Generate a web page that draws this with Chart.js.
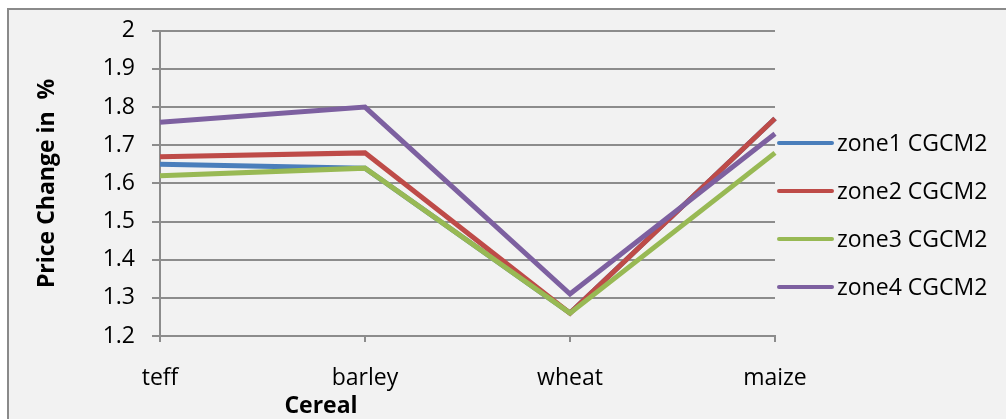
<!DOCTYPE html>
<html>
<head>
<meta charset="utf-8">
<script src="https://cdn.jsdelivr.net/npm/chart.js@4/dist/chart.umd.min.js"></script>
<style>
  html, body { margin: 0; padding: 0; background: #ffffff; }
  #wrap { position: relative; width: 1006px; height: 419px; overflow: hidden; }
  #frame {
    position: absolute; left: 7px; top: 8px; right: -4px; bottom: -4px;
    background: #f2f2f2; border-left: 2px solid #8a8a8a; border-top: 2px solid #8a8a8a;
  }
  #chart { position: absolute; left: 0; top: 0; }
</style>
</head>
<body>
<div id="wrap">
  <div id="frame"></div>
  <canvas id="chart" width="1006" height="419"></canvas>
</div>
<script>
// categories and series
const cereals   = ["teff", "barley", "wheat", "maize"];
const zoneNames = ["zone1 CGCM2", "zone2 CGCM2", "zone3 CGCM2", "zone4 CGCM2"];
const zone1     = [1.65, 1.64, 1.26, 1.77];
const zone2     = [1.67, 1.68, 1.26, 1.77];
const zone3     = [1.62, 1.64, 1.26, 1.68];
const zone4     = [1.76, 1.80, 1.31, 1.73];
const yMin = 1.2, yMax = 2.0, yStep = 0.1;

const colors = ["#4a7ebb", "#be4b48", "#98b954", "#7d60a0"];
const FONT = "'Open Sans', 'DejaVu Sans', sans-serif";
const gridColor = "#8c8c8c";

const series = [zone1, zone2, zone3, zone4];

// Excel style legend on the right + offset x-axis title
const sideLegend = {
  id: "sideLegend",
  afterDraw(chart) {
    const ctx = chart.ctx;
    ctx.save();
    chart.data.datasets.forEach((ds, i) => {
      const y = 143 + i * 48;
      ctx.strokeStyle = ds.borderColor;
      ctx.lineWidth = 4;
      ctx.lineCap = "round";
      ctx.beginPath();
      ctx.moveTo(779, y);
      ctx.lineTo(832, y);
      ctx.stroke();
      ctx.fillStyle = "#000";
      ctx.font = "23px " + FONT;
      ctx.textBaseline = "middle";
      ctx.textAlign = "left";
      ctx.fillText(ds.label, 837, y + 1);
    });
    ctx.font = "bold 23px " + FONT;
    ctx.textAlign = "center";
    ctx.textBaseline = "middle";
    ctx.fillText("Cereal", 321, 406);
    ctx.restore();
  }
};

new Chart(document.getElementById("chart"), {
  type: "line",
  data: {
    labels: cereals,
    datasets: series.map((vals, i) => ({
      label: zoneNames[i],
      data: vals,
      borderColor: colors[i],
      backgroundColor: colors[i],
      borderWidth: 5,
      pointRadius: 0,
      tension: 0,
      order: series.length - i
    }))
  },
  options: {
    responsive: false,
    animation: false,
    layout: { padding: { top: 28, right: 231, left: 0, bottom: 0 } },
    plugins: {
      legend: { display: false },
      tooltip: { enabled: false }
    },
    scales: {
      x: {
        offset: false,
        afterFit(scale) { scale.height = 83; },
        grid: { drawOnChartArea: false, drawTicks: true, tickLength: 6, color: gridColor, lineWidth: 2 },
        border: { color: gridColor, width: 2 },
        ticks: { color: "#000", padding: 23, font: { family: FONT, size: 23 }, maxRotation: 0 }
      },
      y: {
        min: yMin,
        max: yMax,
        afterFit(scale) { scale.width = 160; },
        grid: { color: gridColor, lineWidth: 2, tickLength: 8 },
        border: { color: gridColor, width: 2 },
        ticks: {
          stepSize: yStep,
          color: "#000",
          padding: 17,
          font: { family: FONT, size: 23 },
          callback: v => Math.round(v * 10) / 10
        },
        title: {
          display: true,
          text: "Price Change in  %",
          color: "#000",
          font: { family: FONT, size: 23, weight: "bold" },
          padding: { top: 34, bottom: 0 }
        }
      }
    }
  },
  plugins: [sideLegend]
});
</script>
</body>
</html>
